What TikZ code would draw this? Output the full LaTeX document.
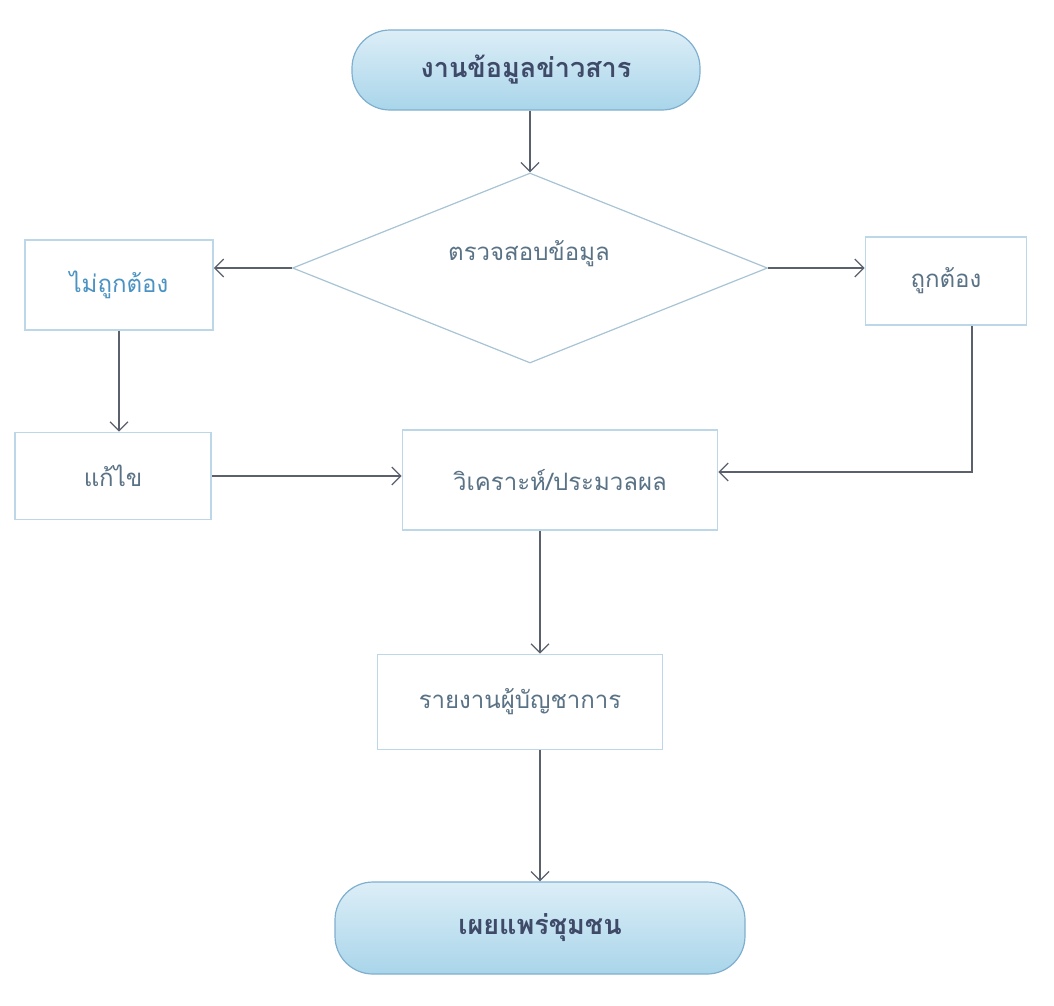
\documentclass[tikz,border=0pt]{standalone}
\usepackage{fontspec}
\newfontfamily\thaifont[Script=Thai]{Loma}
\usetikzlibrary{shapes.geometric,arrows.meta}
\definecolor{boxline}{HTML}{BCD8E8}
\definecolor{txt}{HTML}{5A7285}
\definecolor{txtblue}{HTML}{4A93C2}
\definecolor{arr}{HTML}{5A606C}
\definecolor{termtop}{HTML}{DCEEF7}
\definecolor{termbot}{HTML}{A9D5EA}
\definecolor{termline}{HTML}{7FAFCF}
\definecolor{termtxt}{HTML}{3E4A68}
\tikzset{
  proc/.style={draw=boxline, line width=1.6pt, fill=white, text=txt, font=\thaifont\fontsize{24}{28}\selectfont, inner sep=0pt},
  term/.style={draw=termline, line width=1.2pt, rounded corners=38pt, top color=termtop, bottom color=termbot, text=termtxt, font=\thaifont\bfseries\fontsize{27}{32}\selectfont, inner sep=0pt},
  decide/.style={diamond, draw=boxline!80!txt, line width=1.2pt, fill=white, inner sep=0pt, aspect=2.5},
  flow/.style={draw=arr, line width=1.3pt, -{Straight Barb[length=9pt,width=18pt,line width=1.3pt]}}
}
\begin{document}
\begin{tikzpicture}[x=1pt,y=-1pt]
\useasboundingbox (0,0) rectangle (1054,1005);
\node[term, minimum width=348pt, minimum height=80pt] (start) at (526,70) {งานข้อมูลข่าวสาร};
\node[decide, minimum width=475pt, minimum height=190pt] (check) at (530,268) {};
\node[text=txt, font=\thaifont\fontsize{24}{28}\selectfont] (checktxt) at (529,254) {ตรวจสอบข้อมูล};
\node[proc, minimum width=188pt, minimum height=90pt, text=txtblue] (wrong) at (119,285) {ไม่ถูกต้อง};
\node[proc, minimum width=161pt, minimum height=88pt] (right) at (946,281) {ถูกต้อง};
\node[proc, minimum width=196pt, minimum height=87pt] (fix) at (113,476) {แก้ไข};
\node[proc, minimum width=315pt, minimum height=100pt] (proc) at (560,480) {วิเคราะห์/ประมวลผล};
\node[proc, minimum width=285pt, minimum height=95pt] (report) at (520,702) {รายงานผู้บัญชาการ};
\node[term, minimum width=410pt, minimum height=92pt] (end) at (540,928) {เผยแพร่ชุมชน};
\draw[flow] (start.south -| 530,0) -- (check.north);
\draw[flow] (check.west) -- (wrong.east |- check.west);
\draw[flow] (check.east) -- (right.west |- check.east);
\draw[flow] (wrong.south) -- (fix.north -| wrong.south);
\draw[flow] (fix.east) -- (proc.west |- fix.east);
\draw[flow] (right.south -| 972,0) -- (972,472) -- (proc.east |- 0,472);
\draw[flow] (proc.south -| 540,0) -- (report.north -| 540,0);
\draw[flow] (report.south -| 540,0) -- (end.north -| 540,0);
\end{tikzpicture}
\end{document}
